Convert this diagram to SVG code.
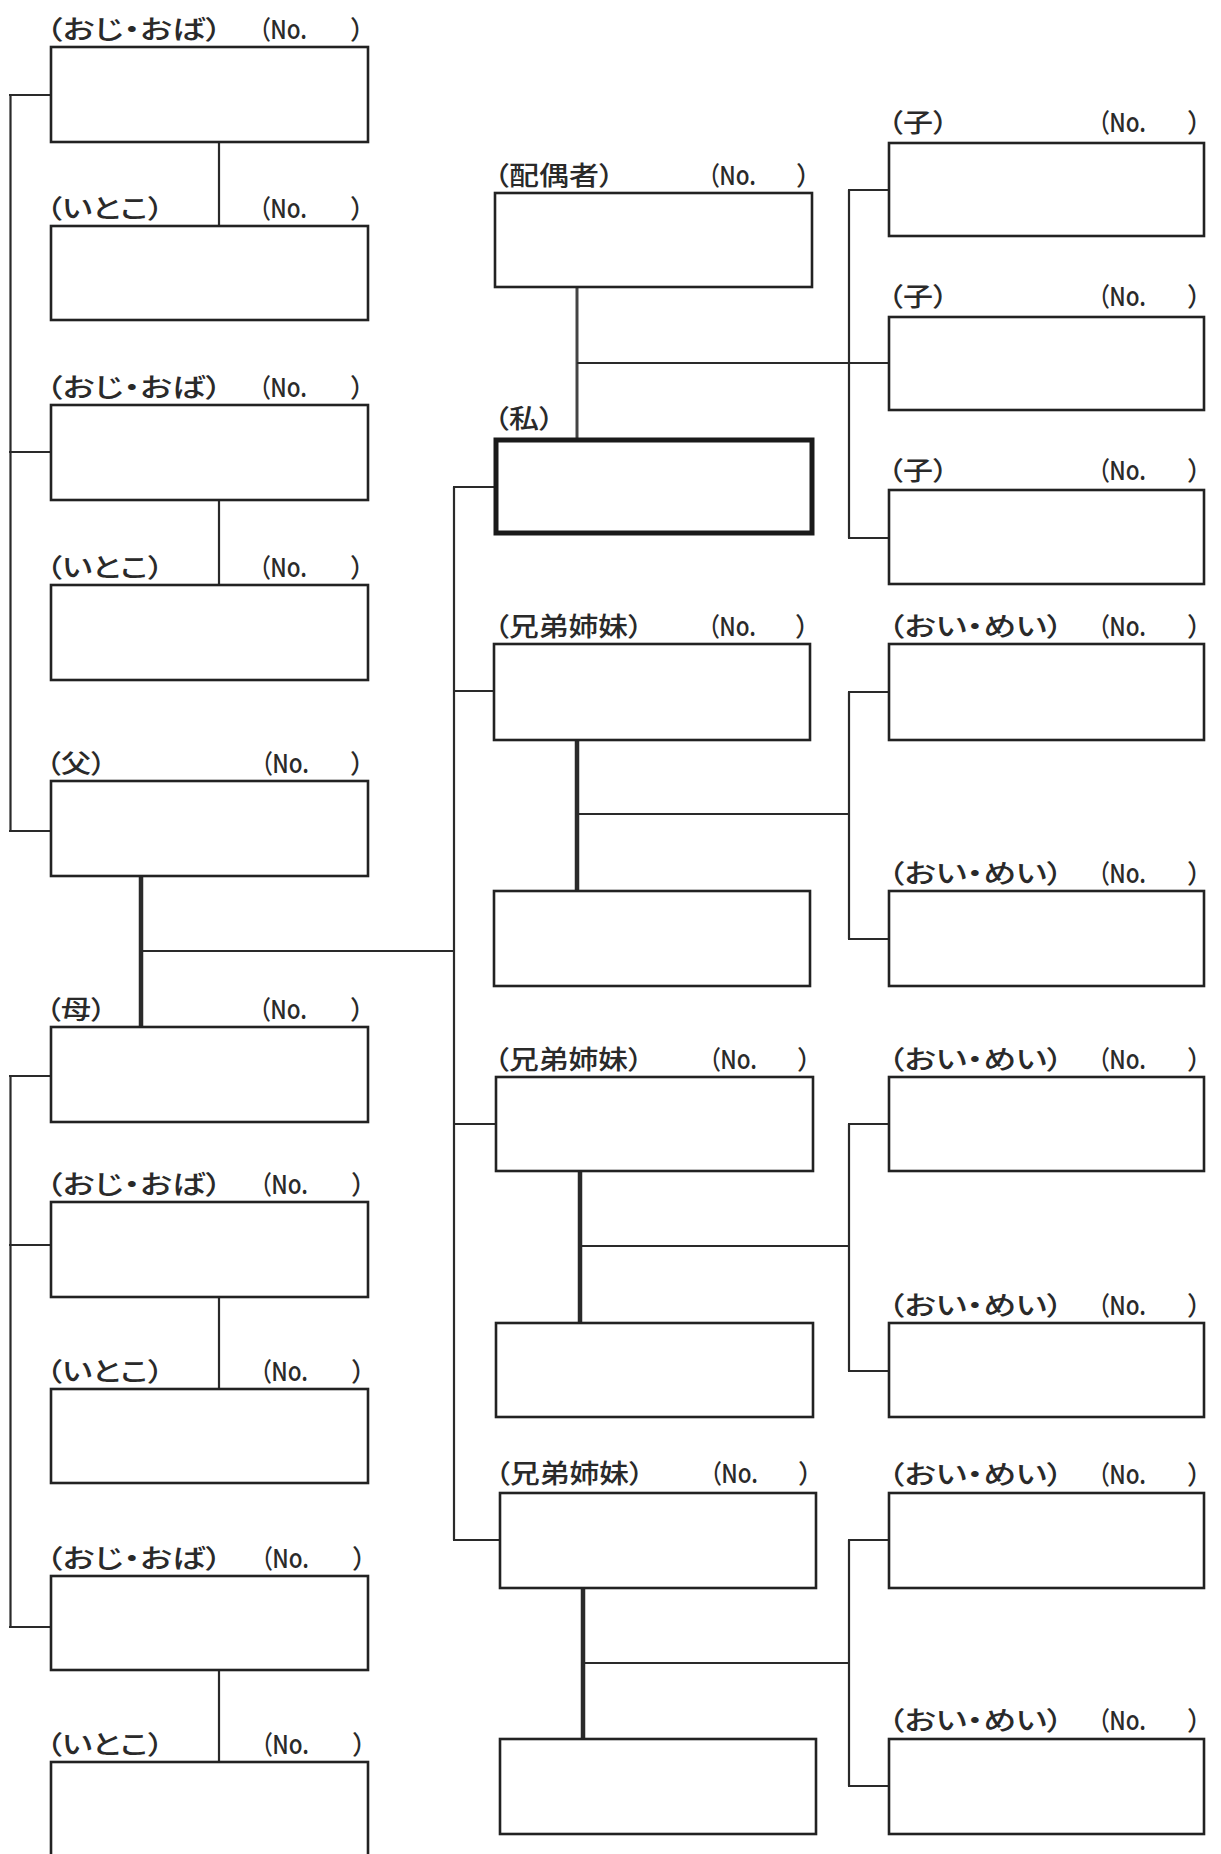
<svg xmlns="http://www.w3.org/2000/svg" width="1221" height="1854" viewBox="0 0 1221 1854">
<style>
.b{fill:#fff;stroke:#222;stroke-width:2.6}
.me{fill:#fff;stroke:#1a1a1a;stroke-width:5}
.t{font-family:"Noto Sans CJK JP","Noto Sans",sans-serif;font-size:26px;font-weight:500;fill:#2a2a2a;font-feature-settings:"palt"}
.c{fill:none;stroke:#2a2a2a;stroke-width:2.2}
.k{fill:none;stroke:#2a2a2a;stroke-width:4.5}
.m{fill:none;stroke:#444;stroke-width:3}
</style>
<rect width="1221" height="1854" fill="#fff"/>
<g id="connectors">
<path class="c" d="M10.5 95V831M9 95H51M9 452H51M9 831H51"/>
<path class="c" d="M10.5 1076V1627M9 1076H51M9 1245H51M9 1627H51"/>
<path class="c" d="M219 142V226M219 500V585M219 1297V1389M219 1670V1762"/>
<path class="k" d="M141 876V1027"/>
<path class="c" d="M141 951H454"/>
<path class="c" d="M454 487V1540M453 487H495M453 691H494M453 1124H496M453 1540H500"/>
<path class="m" d="M577 287V438"/>
<path class="c" d="M577 363H889"/>
<path class="c" d="M849 190V538M848 190H889M848 538H889"/>
<path class="k" d="M577 740V891"/>
<path class="c" d="M577 814H849M849 692V939M848 692H889M848 939H889"/>
<path class="k" d="M580 1171V1323"/>
<path class="c" d="M580 1246H849M849 1124V1371M848 1124H889M848 1371H889"/>
<path class="k" d="M583 1588V1739"/>
<path class="c" d="M583 1663H849M849 1540V1786M848 1540H889M848 1786H889"/>
</g>
<g id="oji1"><text class="t" x="46" y="39" textLength="176" lengthAdjust="spacingAndGlyphs">（おじ・おば）</text><text class="t" x="259" y="39" textLength="48" lengthAdjust="spacingAndGlyphs">（No.</text><text class="t" x="351" y="39">）</text><rect class="b" x="51" y="47" width="317" height="95"/></g>
<g id="itoko1"><text class="t" x="46" y="218" textLength="118" lengthAdjust="spacingAndGlyphs">（いとこ）</text><text class="t" x="259" y="218" textLength="48" lengthAdjust="spacingAndGlyphs">（No.</text><text class="t" x="351" y="218">）</text><rect class="b" x="51" y="226" width="317" height="94"/></g>
<g id="oji2"><text class="t" x="46" y="397" textLength="176" lengthAdjust="spacingAndGlyphs">（おじ・おば）</text><text class="t" x="259" y="397" textLength="48" lengthAdjust="spacingAndGlyphs">（No.</text><text class="t" x="351" y="397">）</text><rect class="b" x="51" y="405" width="317" height="95"/></g>
<g id="itoko2"><text class="t" x="46" y="577" textLength="118" lengthAdjust="spacingAndGlyphs">（いとこ）</text><text class="t" x="259" y="577" textLength="48" lengthAdjust="spacingAndGlyphs">（No.</text><text class="t" x="351" y="577">）</text><rect class="b" x="51" y="585" width="317" height="95"/></g>
<g id="father"><text class="t" x="46" y="773" textLength="60" lengthAdjust="spacingAndGlyphs">（父）</text><text class="t" x="261" y="773" textLength="48" lengthAdjust="spacingAndGlyphs">（No.</text><text class="t" x="351" y="773">）</text><rect class="b" x="51" y="781" width="317" height="95"/></g>
<g id="mother"><text class="t" x="46" y="1019" textLength="60" lengthAdjust="spacingAndGlyphs">（母）</text><text class="t" x="259" y="1019" textLength="48" lengthAdjust="spacingAndGlyphs">（No.</text><text class="t" x="351" y="1019">）</text><rect class="b" x="51" y="1027" width="317" height="95"/></g>
<g id="oji3"><text class="t" x="46" y="1194" textLength="176" lengthAdjust="spacingAndGlyphs">（おじ・おば）</text><text class="t" x="260" y="1194" textLength="48" lengthAdjust="spacingAndGlyphs">（No.</text><text class="t" x="352" y="1194">）</text><rect class="b" x="51" y="1202" width="317" height="95"/></g>
<g id="itoko3"><text class="t" x="46" y="1381" textLength="118" lengthAdjust="spacingAndGlyphs">（いとこ）</text><text class="t" x="260" y="1381" textLength="48" lengthAdjust="spacingAndGlyphs">（No.</text><text class="t" x="352" y="1381">）</text><rect class="b" x="51" y="1389" width="317" height="94"/></g>
<g id="oji4"><text class="t" x="46" y="1568" textLength="176" lengthAdjust="spacingAndGlyphs">（おじ・おば）</text><text class="t" x="261" y="1568" textLength="48" lengthAdjust="spacingAndGlyphs">（No.</text><text class="t" x="353" y="1568">）</text><rect class="b" x="51" y="1576" width="317" height="94"/></g>
<g id="itoko4"><text class="t" x="46" y="1754" textLength="118" lengthAdjust="spacingAndGlyphs">（いとこ）</text><text class="t" x="261" y="1754" textLength="48" lengthAdjust="spacingAndGlyphs">（No.</text><text class="t" x="353" y="1754">）</text><rect class="b" x="51" y="1762" width="317" height="110"/></g>
<g id="spouse"><text class="t" x="494" y="185" textLength="120" lengthAdjust="spacingAndGlyphs">（配偶者）</text><text class="t" x="708" y="185" textLength="48" lengthAdjust="spacingAndGlyphs">（No.</text><text class="t" x="797" y="185">）</text><rect class="b" x="495" y="193" width="317" height="94"/></g>
<g id="me"><text class="t" x="494" y="428" textLength="60" lengthAdjust="spacingAndGlyphs">（私）</text><rect class="me" x="496" y="440" width="316" height="93"/></g>
<g id="sib1"><text class="t" x="494" y="636" textLength="149" lengthAdjust="spacingAndGlyphs">（兄弟姉妹）</text><text class="t" x="708" y="636" textLength="48" lengthAdjust="spacingAndGlyphs">（No.</text><text class="t" x="796" y="636">）</text><rect class="b" x="494" y="644" width="316" height="96"/></g>
<g id="sib1b"><rect class="b" x="494" y="891" width="316" height="95"/></g>
<g id="sib2"><text class="t" x="494" y="1069" textLength="149" lengthAdjust="spacingAndGlyphs">（兄弟姉妹）</text><text class="t" x="709" y="1069" textLength="48" lengthAdjust="spacingAndGlyphs">（No.</text><text class="t" x="798" y="1069">）</text><rect class="b" x="496" y="1077" width="317" height="94"/></g>
<g id="sib2b"><rect class="b" x="496" y="1323" width="317" height="94"/></g>
<g id="sib3"><text class="t" x="495" y="1483" textLength="149" lengthAdjust="spacingAndGlyphs">（兄弟姉妹）</text><text class="t" x="710" y="1483" textLength="48" lengthAdjust="spacingAndGlyphs">（No.</text><text class="t" x="799" y="1483">）</text><rect class="b" x="500" y="1493" width="316" height="95"/></g>
<g id="sib3b"><rect class="b" x="500" y="1739" width="316" height="95"/></g>
<g id="child1"><text class="t" x="888" y="132" textLength="60" lengthAdjust="spacingAndGlyphs">（子）</text><text class="t" x="1098" y="132" textLength="48" lengthAdjust="spacingAndGlyphs">（No.</text><text class="t" x="1188" y="132">）</text><rect class="b" x="889" y="143" width="315" height="93"/></g>
<g id="child2"><text class="t" x="888" y="306" textLength="60" lengthAdjust="spacingAndGlyphs">（子）</text><text class="t" x="1098" y="306" textLength="48" lengthAdjust="spacingAndGlyphs">（No.</text><text class="t" x="1188" y="306">）</text><rect class="b" x="889" y="317" width="315" height="93"/></g>
<g id="child3"><text class="t" x="888" y="480" textLength="60" lengthAdjust="spacingAndGlyphs">（子）</text><text class="t" x="1098" y="480" textLength="48" lengthAdjust="spacingAndGlyphs">（No.</text><text class="t" x="1188" y="480">）</text><rect class="b" x="889" y="490" width="315" height="94"/></g>
<g id="nephew1"><text class="t" x="888" y="636" textLength="175" lengthAdjust="spacingAndGlyphs">（おい・めい）</text><text class="t" x="1098" y="636" textLength="48" lengthAdjust="spacingAndGlyphs">（No.</text><text class="t" x="1188" y="636">）</text><rect class="b" x="889" y="644" width="315" height="96"/></g>
<g id="nephew2"><text class="t" x="888" y="883" textLength="175" lengthAdjust="spacingAndGlyphs">（おい・めい）</text><text class="t" x="1098" y="883" textLength="48" lengthAdjust="spacingAndGlyphs">（No.</text><text class="t" x="1188" y="883">）</text><rect class="b" x="889" y="891" width="315" height="95"/></g>
<g id="nephew3"><text class="t" x="888" y="1069" textLength="175" lengthAdjust="spacingAndGlyphs">（おい・めい）</text><text class="t" x="1098" y="1069" textLength="48" lengthAdjust="spacingAndGlyphs">（No.</text><text class="t" x="1188" y="1069">）</text><rect class="b" x="889" y="1077" width="315" height="94"/></g>
<g id="nephew4"><text class="t" x="888" y="1315" textLength="175" lengthAdjust="spacingAndGlyphs">（おい・めい）</text><text class="t" x="1098" y="1315" textLength="48" lengthAdjust="spacingAndGlyphs">（No.</text><text class="t" x="1188" y="1315">）</text><rect class="b" x="889" y="1323" width="315" height="94"/></g>
<g id="nephew5"><text class="t" x="888" y="1484" textLength="175" lengthAdjust="spacingAndGlyphs">（おい・めい）</text><text class="t" x="1098" y="1484" textLength="48" lengthAdjust="spacingAndGlyphs">（No.</text><text class="t" x="1188" y="1484">）</text><rect class="b" x="889" y="1493" width="315" height="95"/></g>
<g id="nephew6"><text class="t" x="888" y="1730" textLength="175" lengthAdjust="spacingAndGlyphs">（おい・めい）</text><text class="t" x="1098" y="1730" textLength="48" lengthAdjust="spacingAndGlyphs">（No.</text><text class="t" x="1188" y="1730">）</text><rect class="b" x="889" y="1739" width="315" height="95"/></g>
</svg>
